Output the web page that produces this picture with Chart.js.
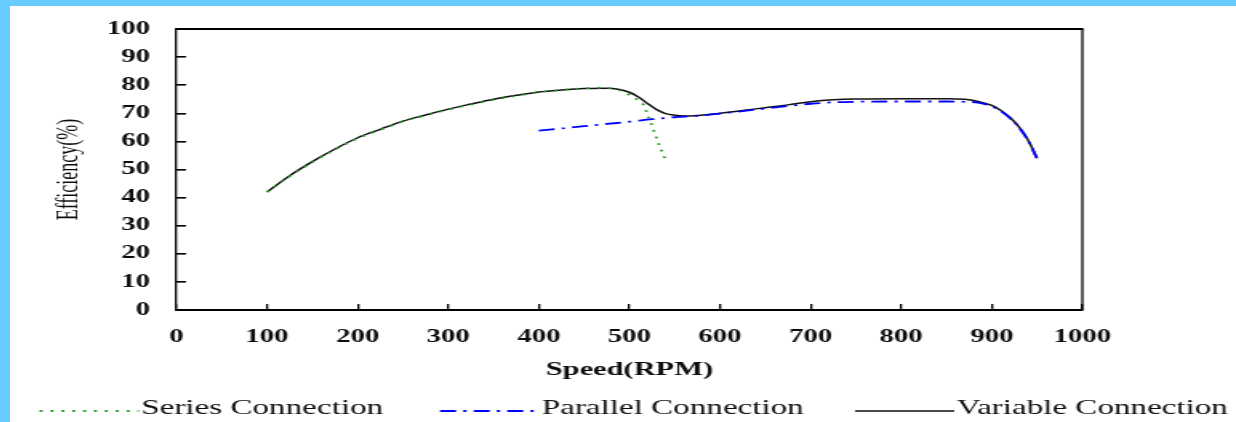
<!DOCTYPE html>
<html>
<head>
<meta charset="utf-8">
<title>Efficiency vs Speed</title>
<script src="https://cdn.jsdelivr.net/npm/chart.js@4.4.1/dist/chart.umd.min.js"></script>
<style>
  html, body { margin: 0; padding: 0; }
  body { width: 1236px; height: 422px; background: #66ccff; overflow: hidden; position: relative; }
  #frame { position: absolute; left: 10px; top: 6px; width: 1226px; height: 416px; background: #fff; overflow: hidden; }
  /* the source figure is stretched sideways, so the canvas is too */
  #chart { transform-origin: 0 0; transform: scaleX(1.6005); }
</style>
</head>
<body>
<div id="frame"><canvas id="chart" width="766" height="416"></canvas></div>
<script>
// Data (speed in RPM, efficiency in %)
const seriesSpeed = [100, 125, 150, 175, 200, 225, 250, 275, 300, 325, 350, 375, 400, 425, 450, 475, 490, 500, 510, 516, 520, 527, 531, 535, 539];
const seriesEff   = [42, 47.6, 52.6, 57.1, 61.1, 64.1, 67.1, 69.3, 71.3, 73.1, 74.8, 76.2, 77.5, 78.3, 78.9, 79.1, 78.1, 76.6, 74.6, 72.8, 69.6, 63.7, 60.2, 57, 54];

const parallelSpeed = [400, 425, 450, 475, 500, 525, 550, 575, 600, 625, 650, 675, 700, 725, 750, 800, 850, 870, 885, 900, 910, 920, 930, 940, 950];
const parallelEff   = [63.8, 64.6, 65.4, 66.2, 67, 67.9, 68.6, 69.1, 69.9, 70.8, 71.7, 72.6, 73.4, 73.9, 74.1, 74.2, 74.2, 74.1, 73.8, 72.5, 70.8, 68.3, 65, 60.3, 53.8];

const variableSpeed = [100, 125, 150, 175, 200, 225, 250, 275, 300, 325, 350, 375, 400, 425, 450, 475, 500, 510, 520, 530, 540, 550, 560, 575, 600, 625, 650, 675, 700, 725, 750, 800, 850, 870, 885, 900, 910, 920, 930, 940, 950];
const variableEff   = [42, 47.8, 52.8, 57.3, 61.3, 64.3, 67.2, 69.4, 71.5, 73.3, 75, 76.4, 77.6, 78.3, 78.8, 78.9, 77.5, 75.8, 73.5, 71.3, 69.9, 69.3, 69, 69.2, 70, 71, 72, 73, 74.1, 74.8, 75.1, 75.2, 75.2, 75, 74.2, 72.8, 71, 68.5, 65.2, 60.5, 54];

const speedTicks = [0, 100, 200, 300, 400, 500, 600, 700, 800, 900, 1000];
const effTicks = [0, 10, 20, 30, 40, 50, 60, 70, 80, 90, 100];

const FONT = '"Liberation Serif", "Times New Roman", serif';
const TEXT_COLOR = '#0d0d0d';

function toPoints(xs, ys) {
  return xs.map((x, i) => ({ x: x, y: ys[i] }));
}

// Legend spread across the bottom like the original figure
const LEGEND_X = [18.5, 268.7, 528];
const LEGEND_SAMPLE_W = 62;
const LEGEND_Y = 403;

const wideLegend = {
  id: 'wideLegend',
  afterDraw(chart) {
    const ctx = chart.ctx;
    ctx.save();
    ctx.font = '20.7px ' + FONT;
    ctx.textBaseline = 'middle';
    ctx.textAlign = 'left';
    chart.data.datasets.forEach((ds, i) => {
      const x = LEGEND_X[i];
      ctx.strokeStyle = ds.borderColor;
      ctx.lineWidth = ds.borderWidth;
      ctx.setLineDash(ds.borderDash || []);
      ctx.beginPath();
      ctx.moveTo(x, LEGEND_Y + 2);
      ctx.lineTo(x + LEGEND_SAMPLE_W, LEGEND_Y + 2);
      ctx.stroke();
      ctx.setLineDash([]);
      ctx.fillStyle = TEXT_COLOR;
      ctx.fillText(ds.label, x + LEGEND_SAMPLE_W + 1.5, LEGEND_Y);
    });
    ctx.restore();
  }
};

// top and right edges of the plot box
const boxFrame = {
  id: 'boxFrame',
  afterDatasetsDraw(chart) {
    const { ctx, chartArea: a } = chart;
    ctx.save();
    ctx.strokeStyle = '#000';
    ctx.lineWidth = 2;
    ctx.beginPath();
    ctx.moveTo(a.left, a.top);
    ctx.lineTo(a.right + 0.6, a.top);
    ctx.stroke();
    ctx.lineWidth = 1.3;
    ctx.beginPath();
    ctx.moveTo(a.right, a.top);
    ctx.lineTo(a.right, a.bottom);
    ctx.stroke();
    ctx.restore();
  }
};

new Chart(document.getElementById('chart'), {
  type: 'line',
  data: {
    datasets: [
      {
        label: 'Series Connection',
        data: toPoints(seriesSpeed, seriesEff),
        borderColor: '#2c9c2c',
        borderWidth: 1.8,
        borderDash: [1.8, 5]
      },
      {
        label: 'Parallel Connection',
        data: toPoints(parallelSpeed, parallelEff),
        borderColor: '#0000ff',
        borderWidth: 1.8,
        borderDash: [10, 4.5, 2, 4.5]
      },
      {
        label: 'Variable Connection',
        data: toPoints(variableSpeed, variableEff),
        borderColor: '#111',
        borderWidth: 1.5
      }
    ]
  },
  options: {
    responsive: false,
    animation: false,
    events: [],
    layout: { padding: { left: 0, right: 96, top: 23, bottom: 40 } },
    elements: {
      point: { radius: 0 },
      line: { cubicInterpolationMode: 'monotone' }
    },
    plugins: {
      legend: { display: false },
      tooltip: { enabled: false }
    },
    scales: {
      x: {
        type: 'linear',
        min: speedTicks[0],
        max: speedTicks[speedTicks.length - 1],
        afterBuildTicks: (scale) => { scale.ticks = speedTicks.map(v => ({ value: v })); },
        ticks: {
          padding: 23,
          color: TEXT_COLOR,
          font: { family: FONT, size: 18, weight: 'bold' },
          callback: (value) => String(value)
        },
        grid: { drawOnChartArea: false, drawTicks: true, tickLength: -6, color: '#000', lineWidth: 1.3 },
        border: { color: '#000', width: 2 },
        title: {
          display: true,
          text: 'Speed(RPM)',
          color: TEXT_COLOR,
          font: { family: FONT, size: 19, weight: 'bold' },
          padding: { top: 0, bottom: 1 }
        },
        afterFit: (scale) => {
          scale.height = 72;
          scale.paddingLeft = 10;
          scale.paddingRight = 20;
        }
      },
      y: {
        type: 'linear',
        min: effTicks[0],
        max: effTicks[effTicks.length - 1],
        afterBuildTicks: (scale) => { scale.ticks = effTicks.map(v => ({ value: v })); },
        ticks: {
          padding: 22.5,
          color: TEXT_COLOR,
          font: { family: FONT, size: 18, weight: 'bold' },
          callback: (value) => String(value)
        },
        grid: { drawOnChartArea: false, drawTicks: true, tickLength: -6, color: '#000', lineWidth: 1.6 },
        border: { color: '#000', width: 1.3 },
        title: {
          display: true,
          text: 'Efficiency(%)',
          color: TEXT_COLOR,
          font: { family: FONT, size: 18 },
          padding: { top: 26.5, bottom: 0 }
        },
        afterFit: (scale) => {
          scale.width = 104;
          // labels sit well away from the axis; keep that gap out of the layout
          scale.paddingTop = 11;
          scale.paddingBottom = 11;
        }
      }
    }
  },
  plugins: [boxFrame, wideLegend]
});
</script>
</body>
</html>
